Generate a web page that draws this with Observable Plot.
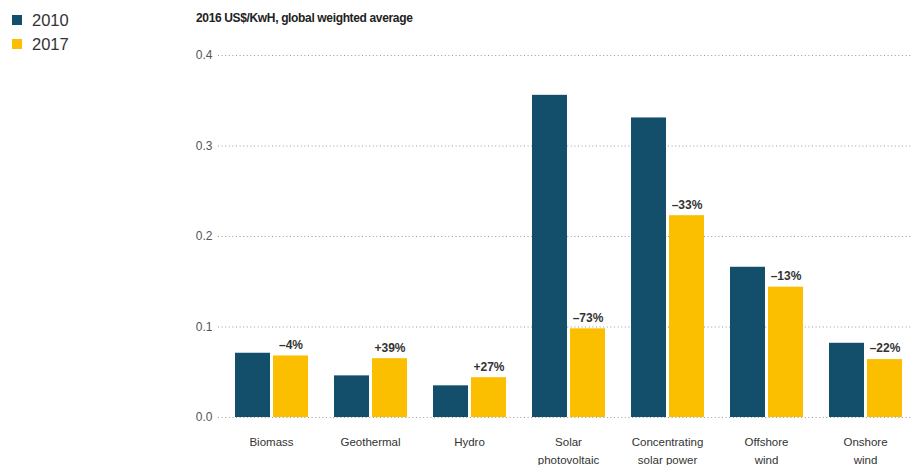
<!DOCTYPE html>
<html>
<head>
<meta charset="utf-8">
<script src="https://cdn.jsdelivr.net/npm/d3@7"></script>
<script src="https://cdn.jsdelivr.net/npm/@observablehq/plot@0.6"></script>
<style>
  html, body { margin: 0; padding: 0; background: #fff; }
  #wrap { position: relative; width: 911px; height: 465px; overflow: hidden;
    font-family: "Liberation Sans", Arial, sans-serif; }
  #legend { position: absolute; left: 12px; top: 8px; color: #333; font-size: 16.5px; }
  .row { display: flex; align-items: center; height: 24px; }
  .sw { width: 10px; height: 10px; margin-right: 10px; }
  #title { position: absolute; left: 196px; top: 11px; font-weight: bold; font-size: 12px; letter-spacing: -0.35px; color: #222; }
  .layer { position: absolute; left: 0; top: 0; }
</style>
</head>
<body>
<div id="wrap">
  <div id="grid" class="layer"></div>
  <div id="bars" class="layer"></div>
  <div id="legend"></div>
  <div id="title">2016 US$/KwH, global weighted average</div>
</div>
<script>
const categories = ["Biomass", "Geothermal", "Hydro", "Solar\nphotovoltaic", "Concentrating\nsolar power", "Offshore\nwind", "Onshore\nwind"];
const years = ["2010", "2017"];
const values2010 = [0.071, 0.046, 0.035, 0.356, 0.331, 0.166, 0.082];
const values2017 = [0.068, 0.065, 0.044, 0.098, 0.223, 0.144, 0.064];
const changeLabels = ["–4%", "+39%", "+27%", "–73%", "–33%", "–13%", "–22%"];
const yTicks = [0, 0.1, 0.2, 0.3, 0.4];
const colors = ["#134f6b", "#fbbf00"];

const rows = [];
categories.forEach((c, i) => {
  rows.push({category: c, year: years[0], value: values2010[i]});
  rows.push({category: c, year: years[1], value: values2017[i], label: changeLabels[i]});
});
const labelRows = rows.filter(d => d.label);
const catRows = categories.map(c => ({category: c}));

// legend
const legend = document.getElementById("legend");
years.forEach((y, i) => {
  const r = document.createElement("div");
  r.className = "row";
  r.innerHTML = `<div class="sw" style="background:${colors[i]}"></div><span>${y}</span>`;
  legend.appendChild(r);
});

const font = `"Liberation Sans", Arial, sans-serif`;
const common = {
  width: 911,
  height: 465,
  marginLeft: 218,
  marginRight: -8,
  marginTop: 55,
  marginBottom: 48,
  style: {fontFamily: font, background: "transparent"},
  y: {domain: [0, 0.4], axis: null}
};

// grid + y tick labels (unfaceted, full width)
const grid = Plot.plot({
  ...common,
  marks: [
    Plot.ruleY(yTicks, {y: d => d, stroke: "#9a9a9a", strokeWidth: 1, strokeDasharray: "1,2.6"}),
    Plot.text(yTicks, {y: d => d, text: d => d3.format(".1f")(d), frameAnchor: "left", textAnchor: "end", dx: -6, fill: "#555", fontSize: 12})
  ]
});
document.getElementById("grid").appendChild(grid);

// grouped bars (faceted by category)
const bars = Plot.plot({
  ...common,
  fx: {domain: categories, paddingInner: 0.25, paddingOuter: 0.16, axis: null},
  x: {domain: years, paddingInner: 0.08, paddingOuter: 0, axis: null},
  color: {domain: years, range: colors},
  marks: [
    Plot.barY(rows, {fx: "category", x: "year", y: "value", fill: "year"}),
    Plot.text(labelRows, {fx: "category", x: "year", y: "value", text: "label", dy: -11, fill: "#333", fontSize: 12, fontWeight: "bold"}),
    Plot.text(catRows, {fx: "category", text: "category", frameAnchor: "bottom", lineAnchor: "top", dy: 16, lineHeight: 1.55, fill: "#333", fontSize: 11.5})
  ]
});
document.getElementById("bars").appendChild(bars);
</script>
</body>
</html>
